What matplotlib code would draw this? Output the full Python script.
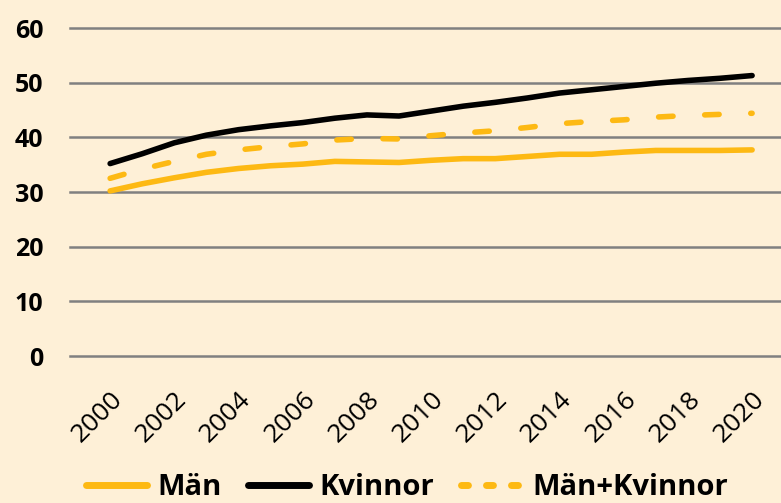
import numpy as np
import matplotlib
matplotlib.use('Agg')
import matplotlib.pyplot as plt

plt.rcParams['font.family'] = ['Open Sans', 'DejaVu Sans']

years = list(range(2000, 2021))
man = [30.2, 31.5, 32.6, 33.6, 34.3, 34.8, 35.1, 35.6, 35.5, 35.4, 35.8,
       36.1, 36.1, 36.5, 36.9, 36.9, 37.3, 37.6, 37.6, 37.6, 37.7]
kvinnor = [35.2, 37.0, 39.0, 40.4, 41.4, 42.1, 42.7, 43.5, 44.1, 43.9, 44.8,
           45.7, 46.4, 47.2, 48.1, 48.7, 49.3, 49.9, 50.4, 50.8, 51.3]
totalt = [32.5, 34.2, 35.6, 36.9, 37.7, 38.3, 38.8, 39.5, 39.8, 39.7, 40.3,
          40.8, 41.2, 41.8, 42.5, 42.9, 43.2, 43.7, 44.0, 44.2, 44.4]
xticks = list(range(2000, 2021, 2))
yticks = [0, 10, 20, 30, 40, 50, 60]

bg = '#FEF0D7'
yellow = '#FDB913'

fig = plt.figure(figsize=(7.81, 5.03), dpi=100, facecolor=bg)
ax = fig.add_axes([70 / 781, 1 - 356 / 503, 711 / 781, 328 / 503])
ax.set_facecolor(bg)

ax.plot(years, man, color=yellow, lw=4, label='Män', solid_capstyle='round')
ax.plot(years, kvinnor, color='black', lw=4, label='Kvinnor', solid_capstyle='round')
ax.plot(years, totalt, color=yellow, lw=4, ls=(0, (2.6, 5.7)), label='Män+Kvinnor',
        dash_capstyle='round')

ax.set_xlim(1998.75, 2020.9)
ax.set_ylim(0, 60)
ax.set_yticks(yticks)
ax.set_xticks(xticks)
ax.set_xticklabels([str(y) for y in xticks], rotation=45, ha='right',
                   rotation_mode='anchor', fontsize=19)
ax.set_yticklabels([str(v) for v in yticks], fontsize=18, fontweight='bold')
ax.tick_params(axis='both', length=0)
ax.tick_params(axis='y', pad=19)
ax.tick_params(axis='x', pad=22)
ax.grid(axis='y', color='#808080', lw=1.8)
for gl in ax.get_ygridlines():
    gl.set_clip_on(False)
ax.set_axisbelow(True)
for s in ax.spines.values():
    s.set_visible(False)

leg = fig.legend(loc='center', bbox_to_anchor=(0.521, 0.03), ncol=3, frameon=False,
                 prop={'weight': 'bold', 'size': 21}, handlelength=2.1,
                 columnspacing=0.9, handletextpad=0.35)
leg_lines = leg.get_lines()
for h in leg_lines[:2]:
    h.set_linewidth(5)
leg_lines[2].set_linewidth(5)
leg_lines[2].set_linestyle((0, (1.0, 2.6)))

fig.savefig('out.png', dpi=100, facecolor=bg)
